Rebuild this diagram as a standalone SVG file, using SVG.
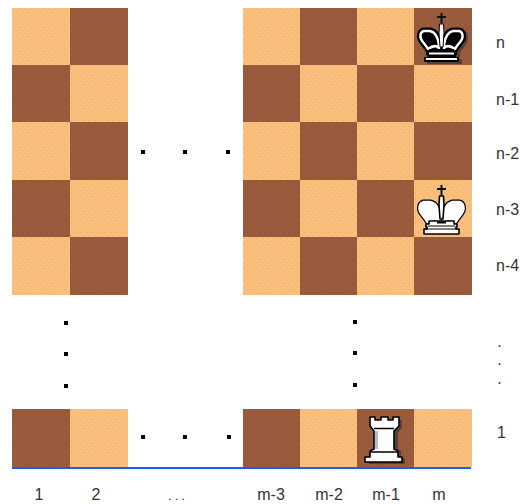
<svg xmlns="http://www.w3.org/2000/svg" width="521" height="504" viewBox="0 0 521 504">
<style>
text{font-family:"Liberation Sans",Arial,sans-serif;font-size:16px;fill:#333}
.m{text-anchor:middle}
.o{stroke:#000;stroke-width:1.6;stroke-linejoin:round}
.s{fill:#3a3634;opacity:.7}
</style>
<defs>
<pattern id="pl" width="6" height="6" patternUnits="userSpaceOnUse"><rect width="6" height="6" fill="#fbbf7b"/><rect x="1" y="1" width="1" height="1" fill="#d2b47c"/><rect x="4" y="4" width="1" height="1" fill="#d2b47c"/></pattern>
<pattern id="pd" width="6" height="6" patternUnits="userSpaceOnUse"><rect width="6" height="6" fill="#9a5a3c"/><rect x="1" y="1" width="1" height="1" fill="#7f5a3a"/><rect x="4" y="4" width="1" height="1" fill="#7f5a3a"/></pattern>
<rect id="L" width="58" height="58" fill="url(#pl)"/>
<rect id="D" width="58" height="58" fill="url(#pd)"/>
<rect id="dot" x="-2" y="-2" width="4" height="4" fill="#000"/>
<path id="lobes" d="M439 45C438 37 435 32 430 31L424 31C420 32 420 36 421 39C423 43 426 45 428 49C432 46 436 45 439 48ZM444 45C445 37 448 32 453 31L459 31C463 32 463 36 462 39C460 43 457 45 455 49C451 46 447 45 444 48Z"/>
<path id="bands" d="M429 49H454V52H457V55H456V57H459V62H424V57H427V55H426V52H429Z"/>
<path id="stem" d="M439 33L439.5 24H443.5L444 33L443 47H440Z"/>
<path id="cross" d="M441.5 13V23M437 17H446" fill="none" stroke="#111" stroke-width="2"/>
</defs>
<g id="board">
<use href="#L" x="12" y="8"/><use href="#D" x="70" y="8"/>
<use href="#D" x="12" y="65"/><use href="#L" x="70" y="65"/>
<use href="#L" x="12" y="122"/><use href="#D" x="70" y="122"/>
<use href="#D" x="12" y="180"/><use href="#L" x="70" y="180"/>
<use href="#L" x="12" y="237"/><use href="#D" x="70" y="237"/>
<use href="#L" x="243" y="8"/><use href="#D" x="300" y="8"/><use href="#L" x="357" y="8"/><use href="#D" x="414" y="8"/>
<use href="#D" x="243" y="65"/><use href="#L" x="300" y="65"/><use href="#D" x="357" y="65"/><use href="#L" x="414" y="65"/>
<use href="#L" x="243" y="122"/><use href="#D" x="300" y="122"/><use href="#L" x="357" y="122"/><use href="#D" x="414" y="122"/>
<use href="#D" x="243" y="180"/><use href="#L" x="300" y="180"/><use href="#D" x="357" y="180"/><use href="#L" x="414" y="180"/>
<use href="#L" x="243" y="237"/><use href="#D" x="300" y="237"/><use href="#L" x="357" y="237"/><use href="#D" x="414" y="237"/>
<use href="#D" x="12" y="409"/><use href="#L" x="70" y="409"/>
<use href="#D" x="243" y="409"/><use href="#L" x="300" y="409"/><use href="#D" x="357" y="409"/><use href="#L" x="414" y="409"/>
</g>
<rect id="baseline" x="12" y="467" width="459" height="2" fill="#1560f0"/>
<g id="ellipses">
<use href="#dot" x="143" y="152"/><use href="#dot" x="185" y="152"/><use href="#dot" x="228" y="152"/>
<use href="#dot" x="143" y="437"/><use href="#dot" x="185" y="437"/><use href="#dot" x="229" y="437"/>
<use href="#dot" x="66" y="323"/><use href="#dot" x="66" y="354"/><use href="#dot" x="66" y="386"/>
<use href="#dot" x="355" y="322"/><use href="#dot" x="355" y="353"/><use href="#dot" x="355" y="385"/>
</g>
<g id="black-king">
<use href="#lobes" x="2" y="2" fill="#3a3634" stroke="#3a3634" stroke-width="7" stroke-linejoin="round" opacity=".7"/>
<use href="#bands" class="s" x="3" y="2"/>
<use href="#cross"/>
<use href="#lobes" fill="#000" stroke="#000" stroke-width="7" stroke-linejoin="round"/>
<use href="#lobes" fill="#000" stroke="#fff" stroke-width="2.5" stroke-linejoin="round"/>
<use href="#bands" fill="#000"/>
<path d="M429 53.5H454M426 59H457" stroke="#fff" stroke-width="2"/>
<use href="#stem" fill="#fff" stroke="#000" stroke-width="1"/>
</g>
<g id="white-king">
<use href="#cross" y="172"/>
<use href="#lobes" y="172" fill="#000" stroke="#000" stroke-width="7" stroke-linejoin="round"/>
<use href="#lobes" y="172" fill="#fff" stroke="#fff" stroke-width="4.5" stroke-linejoin="round"/>
<use href="#stem" y="172" fill="#fff" class="o" stroke-width="1"/>
<use href="#bands" y="172" fill="#fff" class="o"/>
<path d="M428 226H455M425 229H458" stroke="#000" stroke-width="1.2"/>
<path d="M437 222.5H446" stroke="#000" stroke-width="2"/>
</g>
<g id="white-rook">
<path class="s" d="M374 420H402V428L398 433V449L401 451V458H405V464H369V458H373L378 433Z"/>
<path class="o" fill="#fff" d="M370 417H375V420H381V417H388V420H393V417H399V426L394 431V449L398 451V457H402V462H365V457H370V451L374 449V431L370 426Z"/>
<path d="M374 428.5H394M370 452H398" stroke="#000" stroke-width="1.5"/>
<rect x="375" y="431" width="3" height="18" fill="#bbb"/>
</g>
<g id="labels">
<text x="496" y="48">n</text>
<text x="496" y="105">n-1</text>
<text x="496" y="159">n-2</text>
<text x="496" y="215">n-3</text>
<text x="496" y="271">n-4</text>
<text x="497" y="438">1</text>
<text x="499.5" y="346.5" class="m">.</text>
<text x="499.5" y="365" class="m">.</text>
<text x="499.5" y="383.5" class="m">.</text>
<text x="39" y="500" class="m">1</text>
<text x="96" y="500" class="m">2</text>
<text x="178" y="500" class="m" style="letter-spacing:3px;font-size:13px">...</text>
<text x="271" y="500" class="m">m-3</text>
<text x="329" y="500" class="m">m-2</text>
<text x="386" y="500" class="m">m-1</text>
<text x="439" y="500" class="m">m</text>
</g>
</svg>
